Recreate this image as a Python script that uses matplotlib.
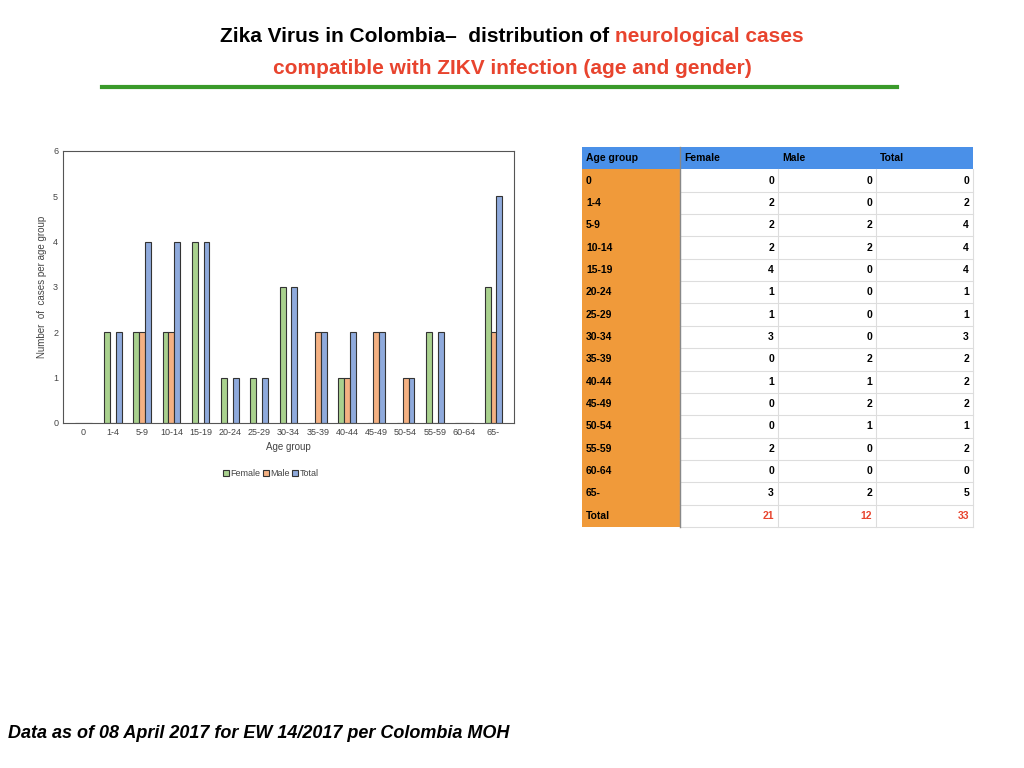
import numpy as np
import matplotlib.pyplot as plt
from matplotlib.patches import Rectangle
from matplotlib.lines import Line2D

# data
age_groups = ['0', '1-4', '5-9', '10-14', '15-19', '20-24', '25-29', '30-34',
              '35-39', '40-44', '45-49', '50-54', '55-59', '60-64', '65-']
female = [0, 2, 2, 2, 4, 1, 1, 3, 0, 1, 0, 0, 2, 0, 3]
male = [0, 0, 2, 2, 0, 0, 0, 0, 2, 1, 2, 1, 0, 0, 2]
total = [0, 2, 4, 4, 4, 1, 1, 3, 2, 2, 2, 1, 2, 0, 5]
sums = [21, 12, 33]

fig = plt.figure(figsize=(10.24, 7.68), dpi=100)
plt.rcParams['font.family'] = ['Liberation Sans', 'DejaVu Sans']

# title
t1 = fig.text(0.5, 1 - 37/768, 'Zika Virus in Colombia\u2013  distribution of ',
              fontsize=15, fontweight='bold', va='center', ha='right')
t2 = fig.text(0.5, 1 - 37/768, 'neurological cases', color='#e8442e',
              fontsize=15, fontweight='bold', va='center', ha='left')
fig.canvas.draw()
r = fig.canvas.get_renderer()
w1 = t1.get_window_extent(r).width / 1024
w2 = t2.get_window_extent(r).width / 1024
left = 0.5 - (w1 + w2) / 2
t1.set_x(left + w1)
t2.set_x(left + w1)
fig.text(0.5, 1 - 69/768, 'compatible with ZIKV infection (age and gender)', color='#e8442e',
         fontsize=15, fontweight='bold', va='center', ha='center')
fig.add_artist(Line2D([102/1024, 897/1024], [1 - 87/768] * 2, color='#3a9a2a', lw=3))

fig.text(8/1024, 1 - 733/768, 'Data as of 08 April 2017 for EW 14/2017 per Colombia MOH',
         fontsize=13, fontweight='bold', fontstyle='italic', va='center')

# chart
ax = fig.add_axes([63/1024, 1 - 423/768, 451/1024, 272/768])
x = np.arange(len(age_groups))
w = 0.2
ec = '#333333'
ax.bar(x - w, female, w, color='#a9d18e', edgecolor=ec, lw=0.8, label='Female')
ax.bar(x, male, w, color='#f4b183', edgecolor=ec, lw=0.8, label='Male')
ax.bar(x + w, total, w, color='#8faadc', edgecolor=ec, lw=0.8, label='Total')
ax.set_xlim(-0.7, len(age_groups) - 0.3)
ax.set_ylim(0, 6)
ax.set_xticks(x)
ax.set_xticklabels(age_groups, fontsize=6.5, color='#444444')
ax.set_yticks(range(7))
ax.tick_params(axis='y', labelsize=6.5, labelcolor='#444444', length=0)
ax.tick_params(axis='x', length=0)
for s in ax.spines.values():
    s.set_color('#555555')
ax.set_xlabel('Age group', fontsize=7, color='#444444')
ax.set_ylabel('Number  of  cases per age group', fontsize=7, color='#444444')
ax.legend(loc='upper center', bbox_to_anchor=(0.46, -0.14), ncol=3, frameon=False,
          fontsize=6.5, handlelength=0.7, handleheight=0.7, columnspacing=0.3,
          handletextpad=0.1, labelcolor='#444444')

# table
cols = [582, 680, 778, 876, 973]
headers = ['Age group', 'Female', 'Male', 'Total']
top = 147
rh = 380 / 17
def fx(px):
    return px / 1024
def fy(py):
    return 1 - py / 768
rows = [[g, f, m, t] for g, f, m, t in zip(age_groups, female, male, total)]
rows.append(['Total'] + sums)
# header
fig.add_artist(Rectangle((fx(cols[0]), fy(top + rh)), fx(cols[4] - cols[0]), rh / 768,
                         color='#4a90e8', lw=0))
for j, h in enumerate(headers):
    fig.text(fx(cols[j] + 4), fy(top + rh / 2), h, fontsize=7.5, fontweight='bold', va='center')
for i, row in enumerate(rows):
    y0 = top + rh * (i + 1)
    fig.add_artist(Rectangle((fx(cols[0]), fy(y0 + rh)), fx(cols[1] - cols[0]), rh / 768,
                             color='#f09a3a', lw=0))
    fig.add_artist(Line2D([fx(cols[1]), fx(cols[4])], [fy(y0 + rh)] * 2, color='#dddddd', lw=0.8))
    fig.text(fx(cols[0] + 4), fy(y0 + rh / 2), row[0], fontsize=7.5, fontweight='bold', va='center')
    c = '#e8442e' if row[0] == 'Total' else 'black'
    for j in range(1, 4):
        fig.text(fx(cols[j + 1] - 4), fy(y0 + rh / 2), str(row[j]), fontsize=7.5,
                 fontweight='bold', va='center', ha='right', color=c)
for cx in cols[1:]:
    fig.add_artist(Line2D([fx(cx)] * 2, [fy(top + rh), fy(top + rh * 17)], color='#dddddd', lw=0.8))
fig.add_artist(Line2D([fx(cols[1])] * 2, [fy(top), fy(top + rh * 17)], color='#888888', lw=1))

fig.savefig('out.png', dpi=100)
